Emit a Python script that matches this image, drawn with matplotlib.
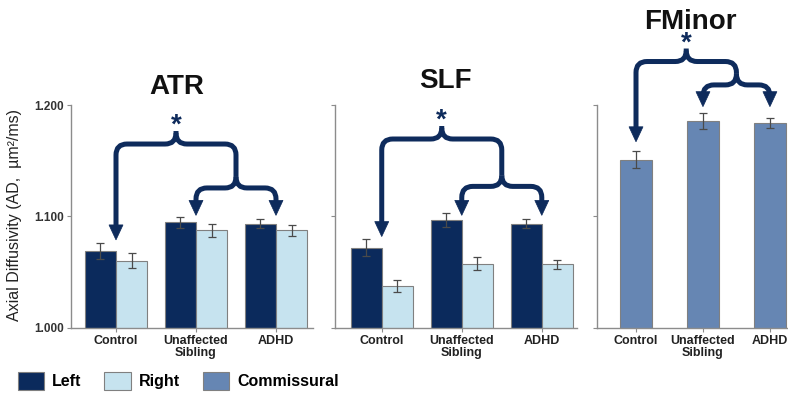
import numpy as np
import matplotlib
matplotlib.use("Agg")
import matplotlib.pyplot as plt
from matplotlib.path import Path
from matplotlib.patches import PathPatch, Polygon, Patch

plt.rcParams['font.family'] = ['Liberation Sans', 'DejaVu Sans']

# ---- data -------------------------------------------------------------
groups = ["Control", "Unaffected\nSibling", "ADHD"]

atr_left = [1.069, 1.095, 1.0935]
atr_left_err = [0.0075, 0.005, 0.004]
atr_right = [1.0605, 1.0875, 1.0875]
atr_right_err = [0.007, 0.0055, 0.005]

slf_left = [1.072, 1.097, 1.0935]
slf_left_err = [0.0075, 0.006, 0.004]
slf_right = [1.0375, 1.0577, 1.0571]
slf_right_err = [0.0055, 0.0057, 0.004]

fminor = [1.151, 1.1855, 1.1835]
fminor_err = [0.0075, 0.007, 0.0045]

yticks = [1.000, 1.100, 1.200]
ytick_labels = ["1.000", "1.100", "1.200"]
series_names = ["Left", "Right", "Commissural"]
panel_titles = ["ATR", "SLF", "FMinor"]
ylabel = "Axial Diffusivity (AD,  \u00b5m\u00b2/ms)"

# ---- style ------------------------------------------------------------
C_LEFT = "#0b2a5c"
C_RIGHT = "#c6e3ef"
C_COMM = "#6686b3"
C_BRACE = "#0e2b5c"
C_AXIS = "#8c8c8c"
C_ERR = "#4a4a4a"
C_EDGE = "#808080"

W, H = 788, 399
fig = plt.figure(figsize=(W / 100, H / 100), dpi=100)


def fig_rect(x0, x1, ytop, ybot):
    return [x0 / W, 1 - ybot / H, (x1 - x0) / W, (ybot - ytop) / H]


ax1 = fig.add_axes(fig_rect(71, 313, 105, 328))
ax2 = fig.add_axes(fig_rect(335, 577, 105, 328))
ax3 = fig.add_axes(fig_rect(596.5, 788, 105, 328))

x = np.arange(len(groups))
bw = 0.39


def style_axis(ax, xlim, show_labels):
    ax.set_xlim(*xlim)
    ax.set_ylim(1.0, 1.2)
    for s in ("top", "right"):
        ax.spines[s].set_visible(False)
    for s in ("left", "bottom"):
        ax.spines[s].set_color(C_AXIS)
        ax.spines[s].set_linewidth(1.0)
    ax.set_yticks(yticks)
    if show_labels:
        ax.set_yticklabels(ytick_labels, fontsize=8.5, fontweight="bold",
                           color="#333333")
    else:
        ax.set_yticklabels([])
    ax.set_xticks(x)
    ax.set_xticklabels(groups, fontsize=9, fontweight="bold", color="#222222",
                       linespacing=1.05)
    ax.tick_params(axis="both", length=3, width=0.8, color=C_AXIS, pad=2)


def paired(ax, left, left_err, right, right_err):
    ekw = dict(ecolor=C_ERR, elinewidth=0.9, capsize=3, capthick=0.9)
    ax.bar(x - bw / 2, left, bw, bottom=0, color=C_LEFT, edgecolor=C_EDGE,
           linewidth=0.8, yerr=left_err, error_kw=ekw, zorder=2)
    ax.bar(x + bw / 2, right, bw, bottom=0, color=C_RIGHT, edgecolor=C_EDGE,
           linewidth=0.8, yerr=right_err, error_kw=ekw, zorder=2)


paired(ax1, atr_left, atr_left_err, atr_right, atr_right_err)
paired(ax2, slf_left, slf_left_err, slf_right, slf_right_err)
ax3.bar(x, fminor, 0.47, color=C_COMM, edgecolor=C_EDGE, linewidth=0.8,
        yerr=fminor_err, error_kw=dict(ecolor=C_ERR, elinewidth=0.9,
                                       capsize=3, capthick=0.9), zorder=2)

style_axis(ax1, (-0.5625, 2.4625), True)
style_axis(ax2, (-0.584, 2.44), False)
style_axis(ax3, (-0.59, 2.27), False)


def brace(ax, y_top, y_mid, tip_first, tip_pair, r=11, stem=13,
          head_w=14, head_l=15, lw=3.6):
    """Significance brace: one group versus the other two."""
    T = ax.transData
    inv = T.inverted()
    x0 = T.transform((x[0], 0))[0]
    xa = T.transform((x[1], 0))[0]
    xb = T.transform((x[2], 0))[0]
    xj = (xa + xb) / 2
    xc = (x0 + xj) / 2
    yt = T.transform((0, y_top))[1]
    ym = T.transform((0, y_mid))[1]
    t0 = T.transform((0, tip_first))[1]
    tp = T.transform((0, tip_pair))[1]

    M, L, Q = Path.MOVETO, Path.LINETO, Path.CURVE3
    segs = [
        # left leg up to the cusp
        ([(x0, t0 + head_l - 2), (x0, yt - r), (x0, yt), (x0 + r, yt),
          (xc - r, yt), (xc, yt), (xc, yt + r), (xc, yt + stem)],
         [M, L, Q, Q, L, Q, Q, L]),
        # cusp across to the junction and down
        ([(xc, yt + r), (xc, yt), (xc + r, yt), (xj - r, yt), (xj, yt),
          (xj, yt - r), (xj, ym + r)],
         [M, Q, Q, L, Q, Q, L]),
        # lower brace, left half
        ([(xj, ym + r), (xj, ym), (xj - r, ym), (xa + r, ym), (xa, ym),
          (xa, ym - r), (xa, tp + head_l - 2)],
         [M, Q, Q, L, Q, Q, L]),
        # lower brace, right half
        ([(xj, ym + r), (xj, ym), (xj + r, ym), (xb - r, ym), (xb, ym),
          (xb, ym - r), (xb, tp + head_l - 2)],
         [M, Q, Q, L, Q, Q, L]),
    ]
    for pts, codes in segs:
        verts = inv.transform(np.array(pts, dtype=float))
        ax.add_patch(PathPatch(Path(verts, codes), fill=False, edgecolor=C_BRACE,
                               lw=lw, capstyle="butt", joinstyle="round",
                               clip_on=False, zorder=5))
    for hx, ht in ((x0, t0), (xa, tp), (xb, tp)):
        tri = inv.transform(np.array([(hx, ht), (hx - head_w / 2, ht + head_l),
                                      (hx + head_w / 2, ht + head_l)]))
        ax.add_patch(Polygon(tri, closed=True, facecolor=C_BRACE,
                             edgecolor=C_BRACE, lw=0.5, clip_on=False, zorder=5))
    sx, sy = inv.transform((xc, yt + stem - 2))
    ax.text(sx, sy, "*", ha="center", va="baseline", fontsize=20,
            fontweight="bold", color=C_BRACE, clip_on=False, zorder=6)


brace(ax1, 1.165, 1.1256, 1.079, 1.101)
brace(ax2, 1.1695, 1.127, 1.082, 1.101)
brace(ax3, 1.239, 1.218, 1.167, 1.1985)

# panel titles
for title, (px, py) in zip(panel_titles, [(177, 87), (445, 81), (690, 22)]):
    fig.text(px / W, 1 - py / H, title, ha="center", va="center",
             fontsize=20, fontweight="bold", color="#111111")

fig.text(15 / W, 1 - 215 / H, ylabel, rotation=90, ha="center", va="center",
         fontsize=11.5, color="#222222")

handles = [Patch(facecolor=c, edgecolor=C_EDGE, linewidth=0.8)
           for c in (C_LEFT, C_RIGHT, C_COMM)]
fig.legend(handles, series_names, loc="center left",
           bbox_to_anchor=(18 / W, 1 - 381 / H), ncol=3, frameon=False,
           prop=dict(weight="bold", size=11.5),
           handlelength=1.65, handleheight=1.4, handletextpad=0.5,
           columnspacing=1.42, borderpad=0, borderaxespad=0)

fig.savefig("out.png", dpi=100)
